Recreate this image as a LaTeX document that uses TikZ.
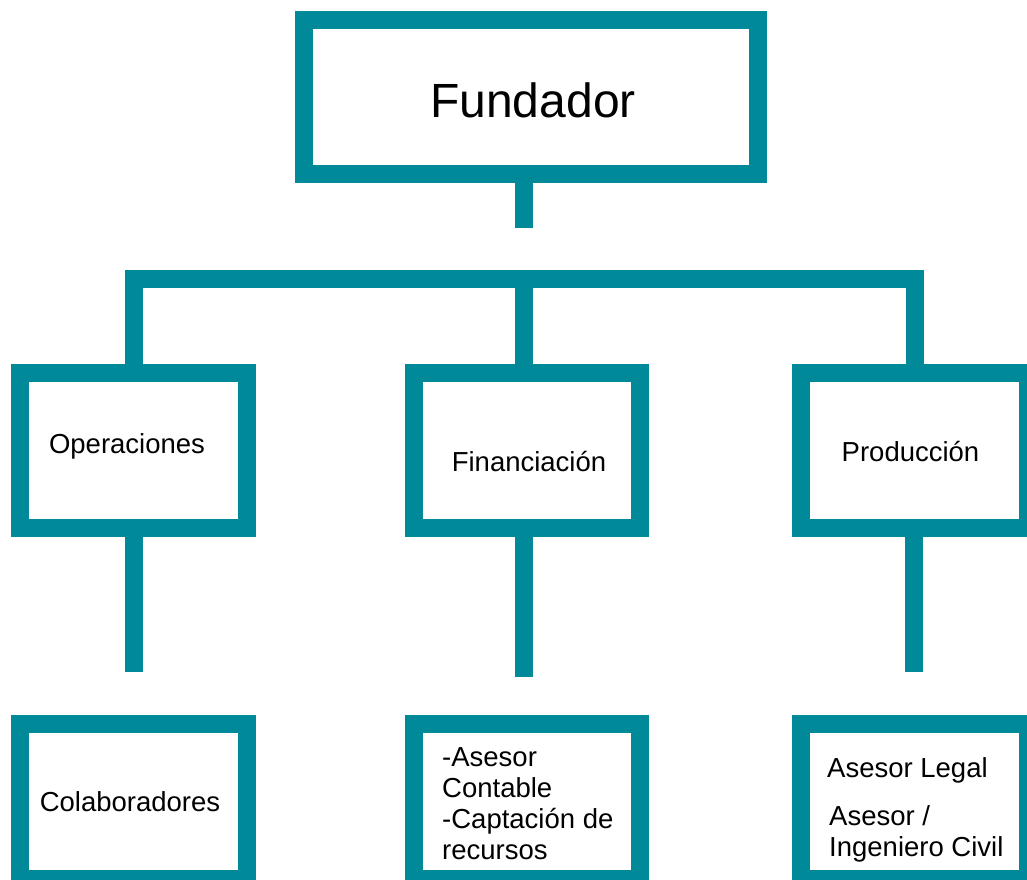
\documentclass[tikz,border=0pt]{standalone}
\usepackage{fontspec}
\setmainfont{Liberation Sans}
\definecolor{verdeazul}{RGB}{0,138,153}
\tikzset{
  caja/.style={draw=verdeazul, line width=18pt, minimum width=227pt, minimum height=155pt, inner sep=0pt},
  linea/.style={draw=verdeazul, line width=18pt},
  texto/.style={inner sep=0pt, font=\fontsize{27.5}{31}\selectfont},
}
\begin{document}
\begin{tikzpicture}[x=1pt, y=-1pt]
\useasboundingbox (0,0) rectangle (1027,879);
\clip (0,0) rectangle (1027,879);
\fill[white] (0,0) rectangle (1027,879);
%
\node[caja, minimum width=454pt, minimum height=154pt] (fund) at (531,97) {};
%
\node[caja] (ope) at (133.5,450.5) {};
\node[caja, minimum width=226pt] (fin) at (527,450.5) {};
\node[caja] (pro) at (914.5,450.5) {};
%
\node[caja] (col) at (133.5,801.5) {};
\node[caja, minimum width=226pt] (ase) at (527,801.5) {};
\node[caja] (leg) at (914.5,801.5) {};
%
\coordinate (barra) at (0,279);
\coordinate (eje) at (524,0);
\coordinate (c-fund) at (524,228);
\coordinate (c-ope) at (134,672);
\coordinate (c-fin) at (524,677);
\coordinate (c-pro) at (914,672);
%
\draw[linea] (fund.south -| eje) -- (c-fund);
%
\draw[linea] (ope.north) -- (ope.north |- barra) -- (pro.north |- barra) -- (pro.north);
\draw[linea] (fin.north -| eje) -- (barra -| eje);
%
\draw[linea] (ope.south -| c-ope) -- (c-ope);
\draw[linea] (fin.south -| c-fin) -- (c-fin);
\draw[linea] (pro.south -| c-pro) -- (c-pro);
%
\node[texto, anchor=base, font=\fontsize{48}{56}\selectfont] (t-fund) at (533,117) {Fundador};
\node[texto, anchor=base] (t-ope) at (127,453) {Operaciones};
\node[texto, anchor=base] (t-fin) at (529,471) {Financiación};
\node[texto, anchor=base] (t-pro) at (910.5,461) {Producción};
%
\node[texto, anchor=base] (t-col) at (130,811) {Colaboradores};
\node[texto, anchor=west, align=left] (t-ase) at (442,804) {-Asesor\\Contable\\-Captación de\\recursos};
\node[texto, anchor=base west] (t-leg) at (827,777) {Asesor Legal};
\node[texto, anchor=west, align=left] (t-ing) at (829,834) {Asesor /\\Ingeniero Civil};
%
\end{tikzpicture}
\end{document}
